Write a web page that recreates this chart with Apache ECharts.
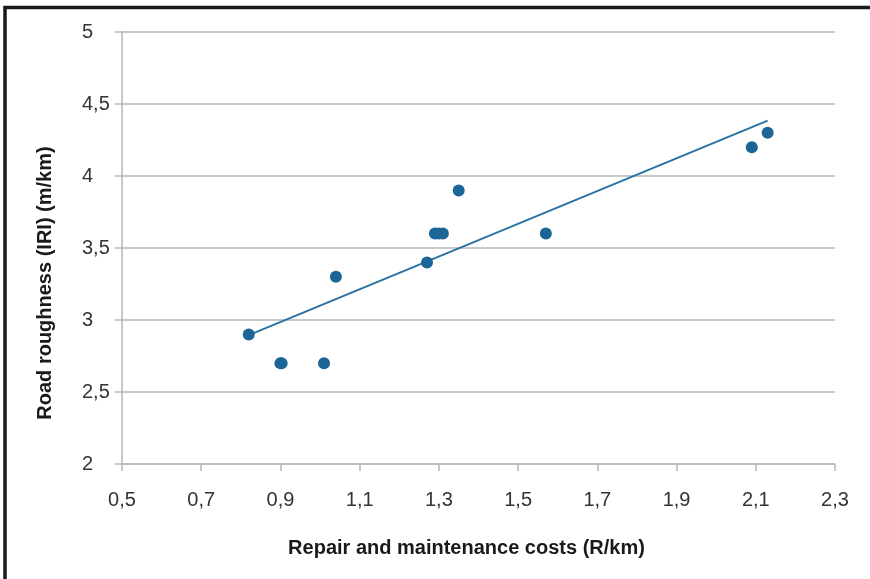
<!DOCTYPE html>
<html>
<head>
<meta charset="utf-8">
<script src="https://cdn.jsdelivr.net/npm/echarts@6/dist/echarts.min.js"></script>
<style>
html,body{margin:0;padding:0;background:#fff;}
#chart{width:870px;height:579px;}
</style>
</head>
<body>
<div id="chart"></div>
<script>
// Data
var costs = [0.82, 0.90, 0.903, 1.01, 1.04, 1.27, 1.29, 1.30, 1.31, 1.35, 1.57, 2.09, 2.13];
var roughness = [2.9, 2.7, 2.7, 2.7, 3.3, 3.4, 3.6, 3.6, 3.6, 3.9, 3.6, 4.2, 4.3];
var trendX = [0.82, 2.13];
var trendY = [2.895, 4.385];
var xTicks = [0.5, 0.7, 0.9, 1.1, 1.3, 1.5, 1.7, 1.9, 2.1, 2.3];
var yTicks = [2, 2.5, 3, 3.5, 4, 4.5, 5];
var xTitle = 'Repair and maintenance costs (R/km)';
var yTitle = 'Road roughness (IRI) (m/km)';

var points = costs.map(function (c, i) { return [c, roughness[i]]; });
var trend = trendX.map(function (c, i) { return [c, trendY[i]]; });
function fmt(v) { return String(Math.round(v * 10) / 10).replace('.', ','); }

var chart = echarts.init(document.getElementById('chart'), null, { renderer: 'canvas' });
var font = '"Liberation Sans", Arial, Helvetica, sans-serif';
chart.setOption({
  animation: false,
  backgroundColor: '#ffffff',
  grid: { left: 122, right: 35, top: 32, bottom: 115, containLabel: false },
  xAxis: {
    type: 'value',
    min: xTicks[0], max: xTicks[xTicks.length - 1], interval: 0.2,
    name: xTitle, nameLocation: 'middle', nameGap: 74,
    nameTextStyle: { fontFamily: font, fontSize: 20, fontWeight: 'bold', color: '#1a1a1a', padding: [0, 24, 0, 0] },
    axisLine: { show: true, lineStyle: { color: '#b5b9bd', width: 1.5 } },
    axisTick: { show: true, length: 7, lineStyle: { color: '#b5b9bd', width: 1.5 } },
    axisLabel: { margin: 26, fontFamily: font, fontSize: 20, color: '#333', formatter: fmt },
    splitLine: { show: false }
  },
  yAxis: {
    type: 'value',
    min: yTicks[0], max: yTicks[yTicks.length - 1], interval: 0.5,
    name: yTitle, nameLocation: 'middle', nameGap: 67, nameRotate: 90,
    nameTextStyle: { fontFamily: font, fontSize: 20, fontWeight: 'bold', color: '#1a1a1a', padding: [0, 70, 0, 0] },
    axisLine: { show: true, lineStyle: { color: '#b5b9bd', width: 1.5 } },
    axisTick: { show: true, length: 7, lineStyle: { color: '#b5b9bd', width: 1.5 } },
    axisLabel: { margin: 40, align: 'left', fontFamily: font, fontSize: 20, color: '#333', formatter: fmt },
    splitLine: { show: true, lineStyle: { color: '#b5b9bd', width: 1.5 } }
  },
  series: [
    {
      type: 'line', data: trend, symbol: 'none', silent: true,
      lineStyle: { color: '#2b72a3', width: 2 }, z: 2
    },
    {
      type: 'scatter', data: points, symbol: 'circle', symbolSize: 12,
      itemStyle: { color: '#1c6597', opacity: 1 }, z: 3
    }
  ],
  graphic: [
    {
      type: 'polyline', silent: true,
      shape: { points: [[5, 579], [5, 7.5], [870, 7.5]] },
      style: { stroke: '#1a1a1a', lineWidth: 3.5, fill: null }
    }
  ]
});
</script>
</body>
</html>
